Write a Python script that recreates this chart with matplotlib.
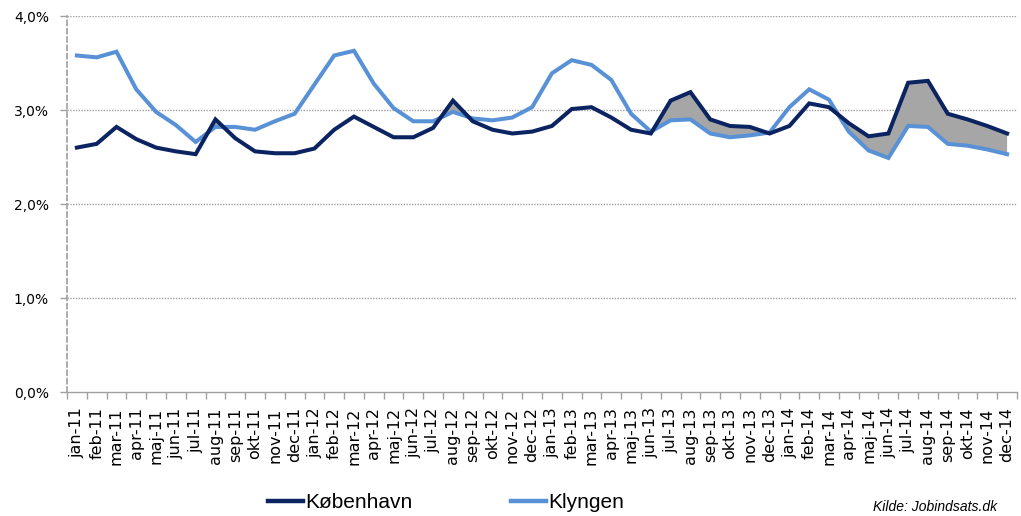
import matplotlib
matplotlib.use("Agg")
import matplotlib.pyplot as plt
from matplotlib.ticker import FuncFormatter, FixedLocator
from matplotlib.lines import Line2D
import numpy as np

labels = ["jan-11", "feb-11", "mar-11", "apr-11", "maj-11", "jun-11", "jul-11", "aug-11", "sep-11", "okt-11", "nov-11", "dec-11",
          "jan-12", "feb-12", "mar-12", "apr-12", "maj-12", "jun-12", "jul-12", "aug-12", "sep-12", "okt-12", "nov-12", "dec-12",
          "jan-13", "feb-13", "mar-13", "apr-13", "maj-13", "jun-13", "jul-13", "aug-13", "sep-13", "okt-13", "nov-13", "dec-13",
          "jan-14", "feb-14", "mar-14", "apr-14", "maj-14", "jun-14", "jul-14", "aug-14", "sep-14", "okt-14", "nov-14", "dec-14"]

kobenhavn = [2.60, 2.64, 2.82, 2.69, 2.60, 2.56, 2.53, 2.90, 2.70, 2.56, 2.54, 2.54,
             2.59, 2.79, 2.93, 2.82, 2.71, 2.71, 2.81, 3.10, 2.88, 2.79, 2.75, 2.77,
             2.83, 3.01, 3.03, 2.92, 2.79, 2.75, 3.10, 3.19, 2.90, 2.83, 2.82, 2.75,
             2.83, 3.07, 3.03, 2.86, 2.72, 2.75, 3.29, 3.31, 2.96, 2.90, 2.83, 2.75]

klyngen = [3.58, 3.56, 3.62, 3.22, 2.98, 2.84, 2.66, 2.82, 2.82, 2.79, 2.88, 2.96,
           3.27, 3.58, 3.63, 3.28, 3.02, 2.88, 2.88, 2.98, 2.91, 2.89, 2.92, 3.03,
           3.39, 3.53, 3.48, 3.32, 2.96, 2.77, 2.89, 2.90, 2.75, 2.71, 2.73, 2.76,
           3.03, 3.22, 3.11, 2.77, 2.57, 2.49, 2.83, 2.82, 2.64, 2.62, 2.58, 2.53]

series_names = ["København", "Klyngen"]
yticks = [0, 1, 2, 3, 4]
source = "Kilde: Jobindsats.dk"

dark = "#0B2461"
light = "#5891D6"
grey = "#A6A6A6"

W, H = 1021, 516
fig = plt.figure(figsize=(W / 100, H / 100), dpi=100)
ax = fig.add_axes([67 / W, 1 - 392 / H, (1017 - 67) / W, (392 - 16) / H])

x = np.arange(len(labels))
k = np.array(kobenhavn)
c = np.array(klyngen)

ax.fill_between(x, k, c, where=k > c, interpolate=True, color=grey, lw=0, zorder=1)
ax.plot(x, c, color=light, lw=2.9, solid_joinstyle="miter", zorder=3)
ax.plot(x, k, color=dark, lw=2.9, solid_joinstyle="miter", zorder=4)

ax.set_xlim(-0.5, len(labels) - 0.5)
ax.set_ylim(0, 4)
ax.set_yticks(yticks)
ax.yaxis.set_major_formatter(FuncFormatter(lambda v, p: f"{v:.1f}%".replace(".", ",")))
for yv in yticks[1:]:
    ax.axhline(yv, color="#A0A0A0", lw=1.0, ls=(0, (1, 1)), zorder=0)

ax.set_xticks(x)
ax.set_xticklabels(labels, rotation=90, fontsize=11.5, family="DejaVu Sans")
ax.xaxis.set_minor_locator(FixedLocator(np.arange(-0.5, len(labels), 1)))
ax.tick_params(axis="x", which="major", length=0, pad=11)
ax.tick_params(axis="x", which="minor", length=5, color="#A0A0A0", width=1)
ax.tick_params(axis="y", length=5, color="#A0A0A0", width=1, pad=8, labelsize=10)

for s in ["top", "right"]:
    ax.spines[s].set_visible(False)
ax.spines["bottom"].set_color("#A0A0A0")
ax.spines["bottom"].set_linewidth(1.0)
ax.spines["left"].set_color("#A0A0A0")
ax.spines["left"].set_linewidth(1.2)
ax.spines["left"].set_linestyle((0, (3, 2)))

handles = [Line2D([], [], color=dark, lw=3.2), Line2D([], [], color=light, lw=3.2)]
fig.legend(handles, series_names, loc="center left", bbox_to_anchor=(268 / W, 1 - 503 / H),
           ncol=2, frameon=False, prop={"family": "Liberation Sans", "size": 15},
           handlelength=1.7, handletextpad=0.1, columnspacing=4.7, borderpad=0, borderaxespad=0)

fig.text(873 / W, 2 / H, source, fontsize=10, style="italic", va="bottom", ha="left",
         family="Liberation Sans")

fig.savefig("out.png", dpi=100)
